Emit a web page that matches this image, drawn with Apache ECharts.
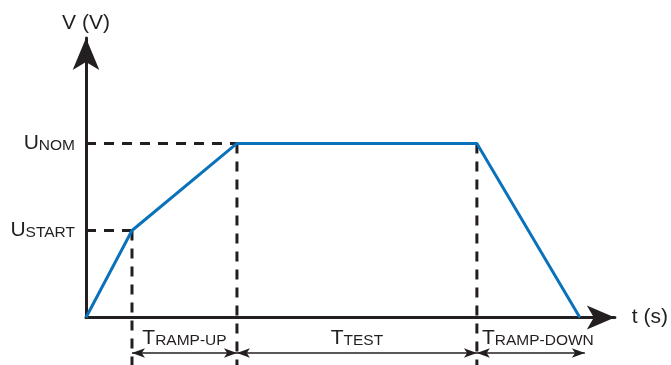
<!DOCTYPE html>
<html lang="en">
<head>
    <meta charset="utf-8">
    <title>Voltage ramp profile</title>
    <script src="https://cdn.jsdelivr.net/npm/echarts@6/dist/echarts.min.js"></script>
    <style>
        html,
        body {
            margin: 0;
            padding: 0;
            background-color: #ffffff;
        }

        #main {
            width: 671px;
            height: 365px;
        }
    </style>
</head>

<body>
<div id="main"></div>
<script>

    // test profile (t in arbitrary units, V relative to UNOM)
    var timePoints = [0, 4.6, 15.1, 39.1, 49.4];
    var voltPoints = [0, 0.5, 1, 1, 0];

    // levels on the V axis
    var levelValues = [0.5, 1];
    var levelLabels = [['U', 'START'], ['U', 'NOM']];

    // phases under the t axis
    var phaseStart = [4.6, 15.1, 39.1];
    var phaseEnd = [15.1, 39.1, 49.9];
    var phaseLabels = [['T', 'RAMP-UP'], ['T', 'TEST'], ['T', 'RAMP-DOWN']];
    var phaseLevel = -0.204;
    var guideBottom = -0.28;

    // which profile points get dashed guides
    var hGuides = [1, 2];
    var vGuides = [1, 2, 3];

    var ink = '#231f20';
    var blue = '#0a72ba';
    var font = '"Liberation Sans", Arial, Helvetica, sans-serif';

    var rich = {
        b: {fontSize: 21, fontFamily: font, color: ink, verticalAlign: 'bottom', lineHeight: 21},
        s: {fontSize: 15.5, fontFamily: font, color: ink, verticalAlign: 'bottom', lineHeight: 15.5}
    };

    function capsLabel(parts) {
        return '{b|' + parts[0] + '}{s|' + parts[1] + '}';
    }

    var profile = [];
    for (var i = 0; i < timePoints.length; i++) {
        profile.push([timePoints[i], voltPoints[i]]);
    }

    // phase arrows
    var spans = [];
    for (var j = 0; j < phaseStart.length; j++) {
        spans.push({
            coords: [[phaseStart[j], phaseLevel], [phaseEnd[j], phaseLevel]],
            label: {formatter: capsLabel(phaseLabels[j]), offset: j === 2 ? [7, 0] : [0, 0]}
        });
    }

    var series = [{
        type: 'line',
        data: profile,
        symbol: 'none',
        z: 5,
        lineStyle: {color: blue, width: 3}
    }, {
        type: 'lines',
        coordinateSystem: 'cartesian2d',
        clip: false,
        silent: true,
        symbol: ['arrow', 'arrow'],
        symbolSize: [[7, 13], [7, 13]],
        lineStyle: {color: ink, width: 1.5, type: 'solid', opacity: 1},
        label: {show: true, position: 'middle', distance: 4, rich: rich},
        data: spans
    }];

    // dashed guides
    var dashStyle = {color: ink, width: 3, type: [10, 8]};
    hGuides.forEach(function (k) {
        series.push({
            type: 'line',
            data: [[0, voltPoints[k]], [timePoints[k], voltPoints[k]]],
            symbol: 'none',
            clip: false,
            z: 3,
            lineStyle: dashStyle
        });
    });
    vGuides.forEach(function (k) {
        series.push({
            type: 'line',
            data: [[timePoints[k], voltPoints[k]], [timePoints[k], guideBottom]],
            symbol: 'none',
            clip: false,
            z: 3,
            lineStyle: dashStyle
        });
    });

    var myChart = echarts.init(document.getElementById('main'));
    var option = {
        animation: false,
        grid: {left: 86, right: 56, top: 38, bottom: 47.5},
        xAxis: {
            type: 'value',
            min: 0,
            max: 52.9,
            name: 't (s)',
            nameLocation: 'end',
            nameGap: 17,
            nameTextStyle: {fontSize: 21, fontFamily: font, color: ink, align: 'left', verticalAlign: 'middle'},
            axisLine: {
                show: true,
                symbol: ['none', 'arrow'],
                symbolSize: [18, 28],
                lineStyle: {color: ink, width: 3}
            },
            axisTick: {show: false},
            axisLabel: {show: false},
            splitLine: {show: false}
        },
        yAxis: {
            type: 'value',
            min: 0,
            max: 1.606,
            name: 'V (V)',
            nameLocation: 'end',
            nameGap: 4,
            nameTextStyle: {fontSize: 21, fontFamily: font, color: ink},
            axisLine: {
                show: true,
                symbol: ['none', 'arrow'],
                symbolSize: [20, 32],
                lineStyle: {color: ink, width: 3}
            },
            axisTick: {show: false},
            splitLine: {show: false},
            axisLabel: {
                customValues: levelValues,
                margin: 11,
                formatter: function (v) {
                    var k = levelValues.indexOf(v);
                    return k < 0 ? '' : capsLabel(levelLabels[k]);
                },
                rich: rich
            }
        },
        series: series
    };
    myChart.setOption(option);

</script>
</body>

</html>
